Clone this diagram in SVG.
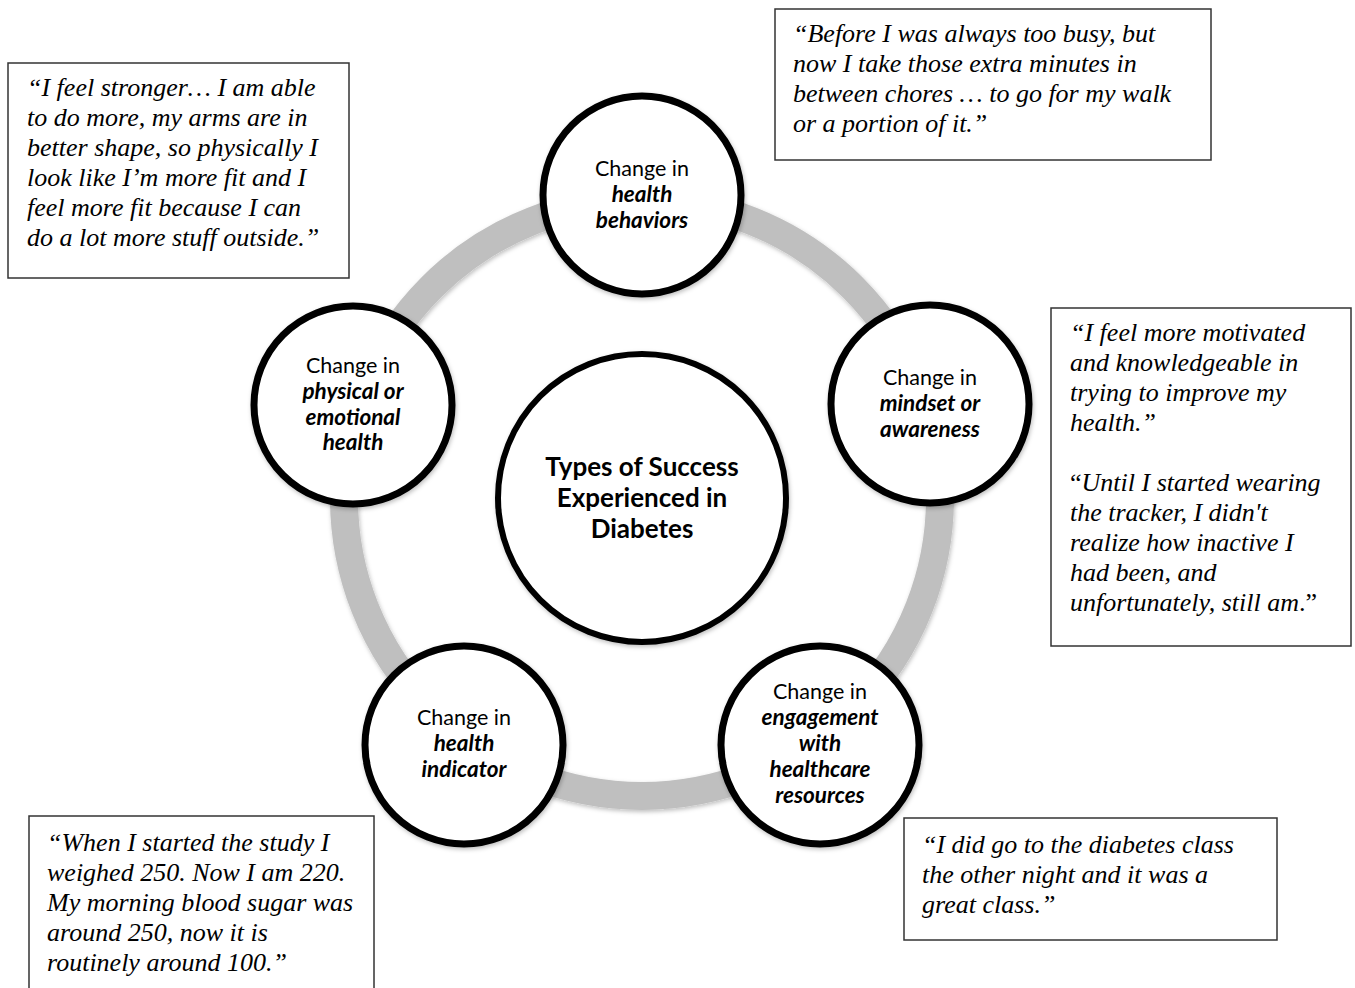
<svg xmlns="http://www.w3.org/2000/svg" width="1355" height="988" viewBox="0 0 1355 988">
<defs>
<filter id="sh" x="-20%" y="-20%" width="140%" height="140%">
<feDropShadow dx="1" dy="2" stdDeviation="2" flood-color="#000" flood-opacity="0.25"/>
</filter>
<style>
.node{fill:#fff;stroke:#000;stroke-width:7}
.hub{fill:#fff;stroke:#000;stroke-width:6}
.lbl{font-family:Lato,"Open Sans",sans-serif;font-size:21.5px;fill:#000;text-anchor:middle}
.em{font-weight:bold;font-style:italic;font-size:22.5px}
.title{font-family:Lato,"Open Sans",sans-serif;font-size:26px;font-weight:bold;fill:#000;text-anchor:middle}
.box{fill:#fff;stroke:#333;stroke-width:1.5}
.q{font-family:"Liberation Serif","Times New Roman",serif;font-size:26px;font-style:italic;fill:#000}
.up{font-style:normal}
</style>
</defs>
<rect width="1355" height="988" fill="#fff"/>
<g id="connectors">
<circle cx="642" cy="498" r="298" fill="none" stroke="#bfbfbf" stroke-width="28" filter="url(#sh)"/>
</g>
<g id="hub">
<circle class="hub" cx="642" cy="498" r="144" filter="url(#sh)"/>
<text class="title" x="642" y="476">Types of Success</text>
<text class="title" x="642" y="507">Experienced in</text>
<text class="title" x="642" y="538">Diabetes</text>
</g>
<g id="node-health-behaviors">
<circle class="node" cx="642" cy="195" r="99" filter="url(#sh)"/>
<text class="lbl" x="642" y="176">Change in</text>
<text class="lbl em" x="642" y="202">health</text>
<text class="lbl em" x="642" y="228">behaviors</text>
</g>
<g id="node-mindset">
<circle class="node" cx="930" cy="404" r="99" filter="url(#sh)"/>
<text class="lbl" x="930" y="385">Change in</text>
<text class="lbl em" x="930" y="411">mindset or</text>
<text class="lbl em" x="930" y="437">awareness</text>
</g>
<g id="node-engagement">
<circle class="node" cx="820" cy="745" r="99" filter="url(#sh)"/>
<text class="lbl" x="820" y="699">Change in</text>
<text class="lbl em" x="820" y="725">engagement</text>
<text class="lbl em" x="820" y="751">with</text>
<text class="lbl em" x="820" y="777">healthcare</text>
<text class="lbl em" x="820" y="803">resources</text>
</g>
<g id="node-health-indicator">
<circle class="node" cx="464" cy="745" r="99" filter="url(#sh)"/>
<text class="lbl" x="464" y="725">Change in</text>
<text class="lbl em" x="464" y="751">health</text>
<text class="lbl em" x="464" y="777">indicator</text>
</g>
<g id="node-physical">
<circle class="node" cx="353" cy="405" r="99" filter="url(#sh)"/>
<text class="lbl" x="353" y="373">Change in</text>
<text class="lbl em" x="353" y="399">physical or</text>
<text class="lbl em" x="353" y="425">emotional</text>
<text class="lbl em" x="353" y="450">health</text>
</g>
<g id="quote-physical">
<rect class="box" x="8" y="63" width="341" height="215"/>
<text class="q" x="27" y="96">“I feel stronger… I am able</text>
<text class="q" x="27" y="126">to do more, my arms are in</text>
<text class="q" x="27" y="156">better shape, so physically I</text>
<text class="q" x="27" y="186">look like I’m more fit and I</text>
<text class="q" x="27" y="216">feel more fit because I can</text>
<text class="q" x="27" y="246">do a lot more stuff outside.”</text>
</g>
<g id="quote-behaviors">
<rect class="box" x="775" y="9" width="436" height="151"/>
<text class="q" x="793" y="42">“Before I was always too busy, but</text>
<text class="q" x="793" y="72">now I take those extra minutes in</text>
<text class="q" x="793" y="102">between chores … to go for my walk</text>
<text class="q" x="793" y="132">or a portion of it.”</text>
</g>
<g id="quote-mindset">
<rect class="box" x="1051" y="308" width="300" height="338"/>
<text class="q" x="1070" y="341">“I feel more motivated</text>
<text class="q" x="1070" y="371">and knowledgeable in</text>
<text class="q" x="1070" y="401">trying to improve my</text>
<text class="q" x="1070" y="431">health.”</text>
<text class="q" x="1070" y="491"><tspan class="up">“</tspan>Until I started wearing</text>
<text class="q" x="1070" y="521">the tracker, I didn't</text>
<text class="q" x="1070" y="551">realize how inactive I</text>
<text class="q" x="1070" y="581">had been, and</text>
<text class="q" x="1070" y="611">unfortunately, still am<tspan class="up">.”</tspan></text>
</g>
<g id="quote-indicator">
<rect class="box" x="29" y="816" width="345" height="180"/>
<text class="q" x="47" y="851">“When I started the study I</text>
<text class="q" x="47" y="881">weighed 250. Now I am 220.</text>
<text class="q" x="47" y="911">My morning blood sugar was</text>
<text class="q" x="47" y="941">around 250, now it is</text>
<text class="q" x="47" y="971">routinely around 100.”</text>
</g>
<g id="quote-engagement">
<rect class="box" x="904" y="818" width="373" height="122"/>
<text class="q" x="922" y="853">“I did go to the diabetes class</text>
<text class="q" x="922" y="883">the other night and it was a</text>
<text class="q" x="922" y="913">great class.”</text>
</g>
</svg>
